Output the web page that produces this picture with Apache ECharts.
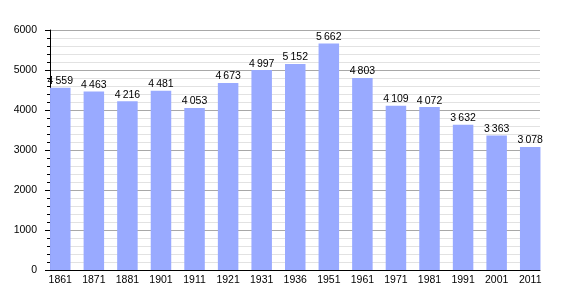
<!DOCTYPE html>
<html><head><meta charset="utf-8">
<script src="https://cdn.jsdelivr.net/npm/echarts@6/dist/echarts.min.js"></script>
<style>html,body{margin:0;padding:0;background:#fff}#c{width:570px;height:300px}</style>
</head><body><div id="c"></div>
<script>
const years = ['1861','1871','1881','1901','1911','1921','1931','1936','1951','1961','1971','1981','1991','2001','2011'];
const population = [4559,4463,4216,4481,4053,4673,4997,5152,5662,4803,4109,4072,3632,3363,3078];
const yMin = 0, yMax = 6000, yStep = 1000;

const font = '"Liberation Sans", Arial, sans-serif';
const chart = echarts.init(document.getElementById('c'), null, {renderer: 'canvas'});
chart.setOption({
  animation: false,
  backgroundColor: '#fff',
  grid: [
    {left: 50, right: 30, top: 30, bottom: 30},
    {left: 43.5, right: 23, top: 30, bottom: 30}
  ],
  xAxis: [
    {gridIndex: 0, type: 'value', min: 0, max: 1,
     axisLine: {show: true, lineStyle: {color: '#000', width: 1}},
     axisTick: {show: false}, axisLabel: {show: false}, splitLine: {show: false}},
    {gridIndex: 1, type: 'category', data: years,
     axisLine: {show: false}, axisTick: {show: false},
     axisLabel: {fontSize: 10.5, color: '#000', fontFamily: font, margin: 5}}
  ],
  yAxis: [
    {gridIndex: 0, type: 'value', min: yMin, max: yMax, interval: yStep,
     axisLine: {show: true, lineStyle: {color: '#000', width: 1}},
     axisTick: {show: true, length: 5, lineStyle: {color: '#000'}},
     minorTick: {show: true, splitNumber: 5, length: 3, lineStyle: {color: '#000'}},
     splitLine: {show: true, lineStyle: {color: '#a8a8a8', width: 1}},
     minorSplitLine: {show: true, lineStyle: {color: '#e2e2e2', width: 1}},
     axisLabel: {fontSize: 10.5, color: '#000', fontFamily: font, margin: 13,
       formatter: v => String(v)}},
    {gridIndex: 1, type: 'value', min: yMin, max: yMax, show: false}
  ],
  series: [{
    type: 'bar', xAxisIndex: 1, yAxisIndex: 1,
    data: population, barWidth: 20.5,
    itemStyle: {color: '#99aaff'},
    label: {show: true, position: 'top', distance: 1, fontSize: 10.5, color: '#000', fontFamily: font,
      formatter: p => String(p.value).replace(/\B(?=(\d{3})+(?!\d))/g, '\u2009')}
  }]
});
</script></body></html>
